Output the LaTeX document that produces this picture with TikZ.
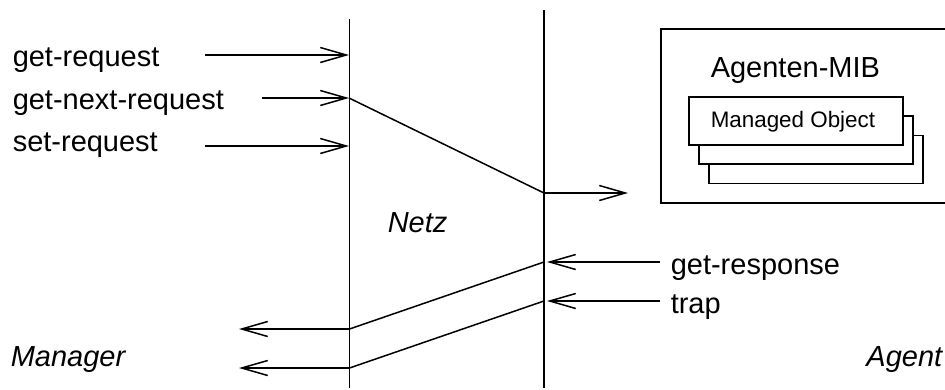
\documentclass[tikz,border=0pt]{standalone}
\usepackage{fontspec}
\setmainfont{Liberation Sans}
\usetikzlibrary{arrows.meta}
\begin{document}
\begin{tikzpicture}[x=1pt,y=-1pt,line width=1.5pt,
  msg/.style={-{Straight Barb[length=26pt,width=15pt,line width=1.5pt]}},
  lbl/.style={inner sep=0pt,anchor=base west,font=\fontsize{29}{34}\selectfont},
  ilbl/.style={lbl,font=\fontsize{29}{34}\selectfont\itshape},
  mobox/.style={draw,fill=white,minimum width=214pt,minimum height=48pt,inner sep=0pt,line width=1.4pt},
  mibbox/.style={draw,line width=1.4pt,minimum width=290pt,minimum height=174pt,inner sep=0pt}]
\useasboundingbox (0,0) rectangle (945,389);
% lifelines
\coordinate (l1t) at (349.5,19);
\coordinate (l1b) at (349.5,388);
\coordinate (l2t) at (544,10);
\coordinate (l2b) at (544,388);
\draw (l1t) -- (l1b);
\draw (l2t) -- (l2b);
% request labels
\node[lbl] (gr) at (12,66) {get-request};
\node[lbl] (gnr) at (12,109) {get-next-request};
\node[lbl] (sr) at (12,151) {set-request};
\coordinate (gr0) at (205,55);  \coordinate (gr1) at (349,55);
\coordinate (gn0) at (262,98);  \coordinate (gn1) at (349,98);
\coordinate (sr0) at (205,146); \coordinate (sr1) at (349,146);
\draw[msg] (gr0) -- (gr1);
\draw[msg] (gn0) -- (gn1);
\draw[msg] (sr0) -- (sr1);
% forward to agent
\coordinate (fa) at (544,193);
\coordinate (fb) at (628,193);
\draw (gn1) -- (fa);
\draw[msg] (fa) -- (fb);
% agent MIB
\node[mibbox] (mib) at (806,116) {};
\node[lbl] (mibt) at (710,77) {Agenten-MIB};
\node[mobox] (mo3) at (816,159.5) {};
\node[mobox] (mo2) at (806,140) {};
\node[mobox] (mo1) at (796,121) {};
\node[lbl,font=\fontsize{22.4}{26}\selectfont] (mot) at (710,127) {Managed Object};
% Netz
\node[ilbl] (netz) at (387,232) {Netz};
% responses
\node[lbl] (gresp) at (670,274) {get-response};
\node[lbl] (trap) at (670,313) {trap};
\coordinate (r0) at (660,262); \coordinate (r1) at (547,262);
\coordinate (t0) at (660,301); \coordinate (t1) at (547,301);
\draw[msg] (r0) -- (r1);
\draw[msg] (t0) -- (t1);
\coordinate (ra) at (544,262); \coordinate (ta) at (544,301);
\coordinate (rb) at (349.5,329); \coordinate (tb) at (349.5,368);
\coordinate (rc) at (239,329); \coordinate (tc) at (239,368);
\draw (ra) -- (rb);
\draw (ta) -- (tb);
\draw[msg] (rb) -- (rc);
\draw[msg] (tb) -- (tc);
% roles
\node[ilbl] (man) at (10,366) {Manager};
\node[ilbl,anchor=base east] (ag) at (943,366) {Agent};
\end{tikzpicture}
\end{document}
